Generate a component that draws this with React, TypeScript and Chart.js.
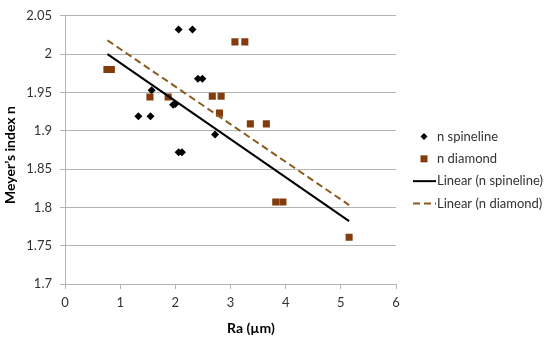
import React, { useEffect, useRef } from "react";
import { Chart, registerables } from "chart.js";

Chart.register(...registerables);

// ---- data ----
const spinelineX = [1.33, 1.55, 1.57, 1.96, 2.0, 2.06, 2.12, 2.06, 2.31, 2.41, 2.49, 2.72];
const spinelineY = [1.919, 1.919, 1.953, 1.934, 1.935, 1.872, 1.872, 2.032, 2.032, 1.968, 1.968, 1.895];

const diamondX = [0.76, 0.84, 1.54, 1.87, 2.67, 2.83, 2.8, 3.08, 3.26, 3.36, 3.65, 3.82, 3.95, 5.15];
const diamondY = [1.98, 1.98, 1.944, 1.944, 1.945, 1.945, 1.923, 2.016, 2.016, 1.909, 1.909, 1.807, 1.807, 1.761];

const trendX = [0.77, 5.15];
const trendSpinelineY = [2.0, 1.782];
const trendDiamondY = [2.018, 1.803];

const seriesLabels = ["n spineline", "n diamond", "Linear (n spineline)", "Linear (n diamond)"];
const xTitle = "Ra (µm)";
const yTitle = "Meyer’s index n";

const FONT = "Lato, 'Open Sans', sans-serif";
const GRID = "#b4b4b4";
const TEXT = "#333333";
const BROWN = "#843c0c";
const DASH_BROWN = "#8a5a1f";

const toPoints = (xs: number[], ys: number[]) => xs.map((x, i) => ({ x, y: ys[i] }));

const overlayPlugin = {
  id: "overlay",
  afterDraw(chart: any) {
    const ctx = chart.ctx as CanvasRenderingContext2D;
    ctx.save();
    // axis titles
    ctx.fillStyle = "#000";
    ctx.font = `bold 14px ${FONT}`;
    ctx.textAlign = "center";
    ctx.textBaseline = "middle";
    ctx.fillText(xTitle, 251, 328);
    ctx.save();
    ctx.translate(10, 155);
    ctx.rotate(-Math.PI / 2);
    ctx.fillText(yTitle, 0, 0);
    ctx.restore();

    // legend
    const ds = chart.data.datasets;
    const spacing = 22.3;
    const cy0 = chart.height / 2 - 1.5 * spacing;
    const markerX = 424;
    ctx.font = `13px ${FONT}`;
    ctx.textAlign = "left";
    ds.forEach((d: any, i: number) => {
      const cy = cy0 + i * spacing;
      ctx.save();
      if (d.showLine) {
        ctx.strokeStyle = d.borderColor;
        ctx.lineWidth = d.borderWidth;
        ctx.setLineDash(d.borderDash || []);
        ctx.beginPath();
        ctx.moveTo(413, cy);
        ctx.lineTo(436, cy);
        ctx.stroke();
      } else if (d.pointStyle === "rectRot") {
        const r = 3.5;
        ctx.fillStyle = d.backgroundColor;
        ctx.beginPath();
        ctx.moveTo(markerX - r, cy);
        ctx.lineTo(markerX, cy - r);
        ctx.lineTo(markerX + r, cy);
        ctx.lineTo(markerX, cy + r);
        ctx.closePath();
        ctx.fill();
      } else {
        ctx.fillStyle = d.backgroundColor;
        ctx.fillRect(markerX - 3.5, cy - 3.5, 7, 7);
      }
      ctx.restore();
      ctx.fillStyle = TEXT;
      ctx.textBaseline = "middle";
      ctx.fillText(d.label, 437, cy);
    });
    ctx.restore();
  },
};

export default function App() {
  const ref = useRef<HTMLCanvasElement | null>(null);

  useEffect(() => {
    if (!ref.current) return;
    const chart = new Chart(ref.current, {
      type: "scatter",
      data: {
        datasets: [
          {
            label: seriesLabels[0],
            data: toPoints(spinelineX, spinelineY),
            pointStyle: "rectRot",
            pointRadius: 4,
            backgroundColor: "#000000",
            borderColor: "#000000",
            pointBorderWidth: 0,
            order: 3,
          } as any,
          {
            label: seriesLabels[1],
            data: toPoints(diamondX, diamondY),
            pointStyle: "rect",
            pointRadius: 5,
            backgroundColor: BROWN,
            borderColor: BROWN,
            pointBorderWidth: 0,
            order: 2,
          },
          {
            label: seriesLabels[2],
            data: toPoints(trendX, trendSpinelineY),
            showLine: true,
            pointRadius: 0,
            borderColor: "#000000",
            backgroundColor: "#000000",
            borderWidth: 2,
            order: 1,
          },
          {
            label: seriesLabels[3],
            data: toPoints(trendX, trendDiamondY),
            showLine: true,
            pointRadius: 0,
            borderColor: DASH_BROWN,
            backgroundColor: DASH_BROWN,
            borderWidth: 2,
            borderDash: [7, 4],
            order: 0,
          },
        ],
      },
      options: {
        responsive: false,
        animation: false,
        layout: { padding: { top: 8, right: 154, bottom: 0, left: 0 } },
        plugins: {
          legend: { display: false },
          tooltip: { enabled: false },
          title: { display: false },
        },
        scales: {
          x: {
            type: "linear",
            position: "bottom",
            min: 0,
            max: 6,
            ticks: { stepSize: 1, color: TEXT, font: { family: FONT, size: 13 }, padding: 6 },
            grid: { drawOnChartArea: false, drawTicks: true, tickLength: 5, color: GRID },
            border: { display: true, color: GRID },
            afterFit: (s: any) => {
              s.height = 56;
            },
          },
          y: {
            type: "linear",
            min: 1.7,
            max: 2.05,
            ticks: {
              stepSize: 0.05,
              color: TEXT,
              font: { family: FONT, size: 13 },
              padding: 8,
              callback: (v: any) => String(Number(Number(v).toFixed(2))),
            },
            grid: { color: GRID, tickLength: 5 },
            border: { display: true, color: GRID },
            afterFit: (s: any) => {
              s.width = 65;
            },
          },
        },
      },
      plugins: [overlayPlugin],
    });
    return () => chart.destroy();
  }, []);

  return (
    <div style={{ position: "absolute", left: 0, top: 0, width: 550, height: 340, background: "#fff" }}>
      <canvas ref={ref} width={550} height={340} style={{ display: "block" }} />
    </div>
  );
}
